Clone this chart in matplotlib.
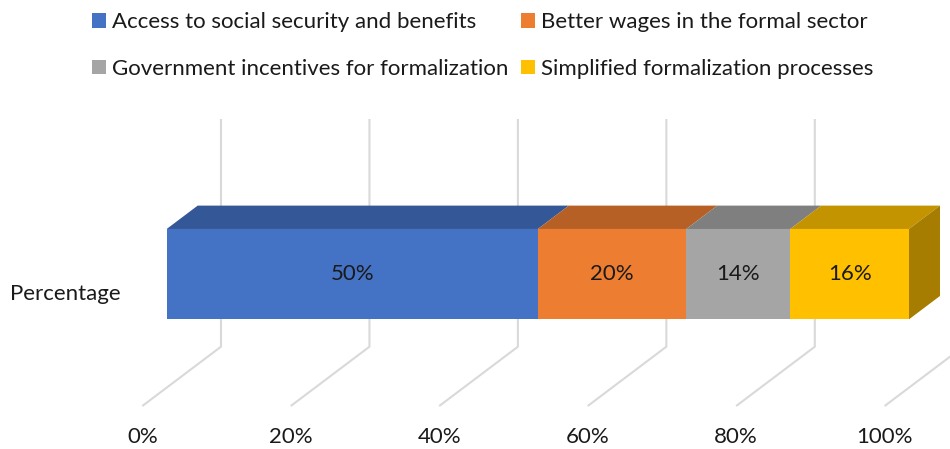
import matplotlib
matplotlib.use("Agg")
import matplotlib.pyplot as plt
from matplotlib.patches import Polygon, Patch
from matplotlib.colors import to_rgb

plt.rcParams['font.family'] = ['Lato', 'DejaVu Sans']

# survey shares (percent)
category = 'Percentage'
series = ['Access to social security and benefits',
          'Better wages in the formal sector',
          'Government incentives for formalization',
          'Simplified formalization processes']
values = [50, 20, 14, 16]
colors = ['#4472C4', '#ED7D31', '#A5A5A5', '#FFC000']
ticks = [0, 20, 40, 60, 80, 100]
tick_labels = ['0%', '20%', '40%', '60%', '80%', '100%']

# oblique projection: depth d in [0, 1] shifts right and up
DX, DY = 10.60, 7.99
WALL_H = 30.67
BAR_Z0, BAR_Z1 = 9.2, 21.37
BAR_D0, BAR_D1 = 0.31, 0.704
FS = 16
TXT = '#1a1a1a'


def proj(x, z, d):
    return (x + d * DX, z + d * DY)


def shade(c, f):
    r, g, b = to_rgb(c)
    return (r * f, g * f, b * f)


fig = plt.figure(figsize=(9.5, 4.49), dpi=100)
ax = fig.add_axes([0, 0, 1, 1])
ax.set_xlim(-19.17, 108.81)
ax.set_ylim(-5.79, 54.69)
ax.axis('off')

grid_c = '#D9D9D9'
for t, lab in zip(ticks, tick_labels):
    pts = [proj(t, 0, 0), proj(t, 0, 1), proj(t, WALL_H, 1)]
    ax.plot([p[0] for p in pts], [p[1] for p in pts], color=grid_c,
            lw=1.5, zorder=1, solid_capstyle='butt')
    ax.text(t, -4.18, lab, ha='center', va='center', fontsize=FS, color=TXT)

left = 0
for i, (v, c) in enumerate(zip(values, colors)):
    x0, x1 = left, left + v
    front = [proj(x0, BAR_Z0, BAR_D0), proj(x1, BAR_Z0, BAR_D0),
             proj(x1, BAR_Z1, BAR_D0), proj(x0, BAR_Z1, BAR_D0)]
    top = [proj(x0, BAR_Z1, BAR_D0), proj(x1, BAR_Z1, BAR_D0),
           proj(x1, BAR_Z1, BAR_D1), proj(x0, BAR_Z1, BAR_D1)]
    ax.add_patch(Polygon(top, closed=True, fc=shade(c, 0.77), ec='none', zorder=3))
    ax.add_patch(Polygon(front, closed=True, fc=c, ec='none', zorder=4))
    if i == len(values) - 1:
        side = [proj(x1, BAR_Z0, BAR_D0), proj(x1, BAR_Z0, BAR_D1),
                proj(x1, BAR_Z1, BAR_D1), proj(x1, BAR_Z1, BAR_D0)]
        ax.add_patch(Polygon(side, closed=True, fc=shade(c, 0.65), ec='none', zorder=3))
    cx, cy = proj((x0 + x1) / 2, (BAR_Z0 + BAR_Z1) / 2, BAR_D0)
    ax.text(cx, cy, f'{v}%', ha='center', va='center', fontsize=FS,
            color=TXT, zorder=5)
    left = x1

ax.text(-2.87, 15.09, category, ha='right', va='center', fontsize=FS, color=TXT)

handles = [Patch(fc=c, ec='none') for c in colors]
order = [0, 2, 1, 3]
fig.legend([handles[k] for k in order], [series[k] for k in order],
           ncol=2, loc='upper center', bbox_to_anchor=(0.508, 1.01),
           frameon=False, fontsize=FS, handlelength=0.63, handleheight=0.63,
           handletextpad=0.25, columnspacing=0.6, labelspacing=1.2,
           borderpad=0.25, labelcolor=TXT)

fig.savefig('out.png', dpi=100)
